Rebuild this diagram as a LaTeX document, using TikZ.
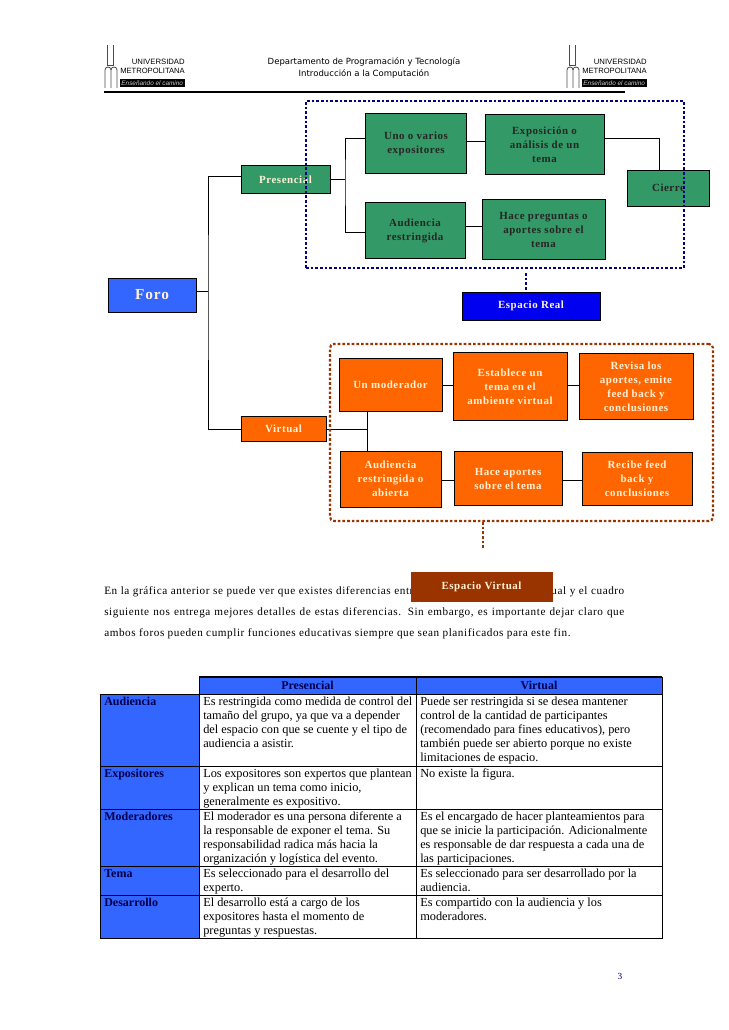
\documentclass[tikz,border=0pt]{standalone}
\usepackage{fontspec}
\setmainfont{Liberation Serif}
\setsansfont{Liberation Sans}
\newfontfamily\verdanafont{DejaVu Sans}
\usetikzlibrary{positioning}
\definecolor{verdeCaja}{RGB}{51,153,102}
\definecolor{naranjaCaja}{RGB}{255,102,0}
\definecolor{azulCaja}{RGB}{51,102,255}
\definecolor{azulReal}{RGB}{0,0,240}
\definecolor{cafeCaja}{RGB}{153,51,0}
\definecolor{azulMarco}{RGB}{0,0,128}
\definecolor{crema}{RGB}{255,240,215}
\tikzset{
  tam/.style 2 args={minimum width=#1*0.75pt,minimum height=#2*0.75pt},
  caja/.style={draw=black,line width=0.7pt,inner sep=0pt,align=center,
    font=\bfseries\fontsize{8.2}{10.5}\selectfont\addfontfeatures{LetterSpace=5}},
  verde/.style={caja,fill=verdeCaja,text=black!85},
  naranja/.style={caja,fill=naranjaCaja,text=crema},
  linea/.style={line width=0.75pt},
  marco/.style={line width=1.6pt,dash pattern=on 2pt off 1.5pt},
  celda/.style={anchor=north west,inner sep=0pt,align=left,
    font=\fontsize{9.25}{10.5}\selectfont},
  titulo/.style={anchor=north west,inner sep=0pt,text=azulMarco!60!black,
    font=\bfseries\fontsize{9}{10.5}\selectfont},
  borde/.style={line width=0.75pt},
  bordeg/.style={line width=1.2pt}
}
\begin{document}
\begin{tikzpicture}[x=0.75pt,y=-0.75pt]
\useasboundingbox (0,0) rectangle (728,1030);
% encabezado
\foreach \ox in {0,462}{
  \begin{scope}[xshift=\ox*0.75pt]
    \draw[line width=0.6pt,black!70] (107,45) -- (107,65) -- (113,65) -- (113,45);
    \draw[line width=0.6pt,black!70] (105,88) -- (105,70) .. controls (105,66) and (111,66) .. (111,70) -- (111,88);
    \draw[line width=0.6pt,black!70] (111,70) .. controls (111,66) and (117,66) .. (117,70) -- (117,88);
    \node[anchor=east,inner sep=0pt,font=\sffamily\fontsize{5.8}{6}\selectfont] (uni\ox) at (185,62) {UNIVERSIDAD};
    \node[anchor=east,inner sep=0pt,font=\sffamily\fontsize{5.7}{6}\selectfont] (metro\ox) at (185,71) {METROPOLITANA};
    \node[anchor=east,fill=black,text=white!80!black,inner sep=0pt,tam={65}{8},font=\sffamily\itshape\fontsize{4.8}{5}\selectfont] (lema\ox) at (185,83) {Enseñando el camino};
  \end{scope}
}
\node[align=center,inner sep=0pt,font=\verdanafont\fontsize{6.4}{9}\selectfont] (depto) at (364,67.5) {Departamento de Programación y Tecnología\\Introducción a la Computación};
\draw[line width=0.8pt] (104,92) -- (625,92);
% cajas
\node[caja,fill=azulCaja,text=crema,tam={88}{34},font=\bfseries\fontsize{11.5}{13}\selectfont\addfontfeatures{LetterSpace=6}] (foro) at (152,295) {Foro};
\node[verde,tam={89}{28},text=crema] (presencial) at (285.5,179.5) {Presencial};
\node[verde,tam={101}{60}] (uno) at (416,143.5) {Uno o varios\\expositores};
\node[verde,tam={119}{60}] (exposicion) at (544.5,144.5) {Exposición o\\análisis de un\\tema};
\node[verde,tam={100}{56}] (audiencia) at (415,230.5) {Audiencia\\restringida};
\node[verde,tam={123}{60}] (preguntas) at (543.5,229.5) {Hace preguntas o\\aportes sobre el\\tema};
\node[verde,tam={82}{36}] (cierre) at (668.5,188) {Cierre};
\node[caja,fill=azulReal,text=crema,tam={138}{28}] (espReal) at (531,306) {Espacio Real};
\node[naranja,tam={85}{25}] (virtual) at (283.5,429) {Virtual};
\node[naranja,tam={103}{53}] (moderador) at (390.5,385) {Un moderador};
\node[naranja,tam={114}{68}] (establece) at (510,386.5) {Establece un\\tema en el\\ambiente virtual};
\node[naranja,tam={114}{66}] (revisa) at (636,386.5) {Revisa los\\aportes, emite\\feed back y\\conclusiones};
\node[naranja,tam={101}{56}] (audVirtual) at (390.5,479) {Audiencia\\restringida o\\abierta};
\node[naranja,tam={108}{54}] (aportes) at (508,478.5) {Hace aportes\\sobre el tema};
\node[naranja,tam={110}{53}] (recibe) at (637,479) {Recibe feed\\back y\\conclusiones};
% conectores
\coordinate (tronco) at (208,292);
\coordinate (ramaP) at (345,180);
\coordinate (ramaV) at (367,429);
\draw[linea] (foro.east |- tronco) -- (tronco);
\draw[linea] (presencial.west |- 0,177) -| (tronco) |- (virtual.west);
\draw[linea] (presencial.east |- ramaP) -- (ramaP);
\draw[linea] (uno.west |- 0,139) -| (ramaP) |- (audiencia.west |- 0,233);
\draw[linea] (uno.east |- 0,142) -- (exposicion.west |- 0,142);
\draw[linea] (audiencia.east |- 0,227) -- (preguntas.west |- 0,227);
\draw[linea] (exposicion.east |- 0,139) -| (cierre.north -| 659,0);
\draw[linea] (virtual.east |- ramaV) -- (ramaV);
\draw[linea] (moderador.south -| ramaV) -- (audVirtual.north -| ramaV);
\draw[linea] (moderador.east) -- (establece.west |- moderador.east);
\draw[linea] (establece.east |- moderador.east) -- (revisa.west |- moderador.east);
\draw[linea] (audVirtual.east |- 0,480) -- (aportes.west |- 0,480);
\draw[linea] (aportes.east |- 0,480) -- (recibe.west |- 0,480);
% espacios
\node[draw=azulMarco,marco,tam={378}{167},inner sep=0pt] (marcoReal) at (495,184.5) {};
\draw[azulMarco,marco] (marcoReal.south -| 526,0) ++(0,4) -- (espReal.north -| 526,0);
\node[draw=cafeCaja,marco,rounded corners=3pt,tam={383}{177},inner sep=0pt] (marcoVirtual) at (521.5,432.5) {};
\draw[cafeCaja,marco] (marcoVirtual.south -| 483,0) -- (483,549);
% texto
\node[anchor=north west,inner sep=0pt,text width=390pt,align=justify,font=\fontsize{8.4}{15.75}\selectfont\addfontfeatures{LetterSpace=5}] (parrafo) at (104,586.5) {En la gráfica anterior se puede ver que existes diferencias entre el foro presencial y el virtual y el cuadro\linebreak siguiente nos entrega mejores detalles de estas diferencias. Sin embargo, es importante dejar claro que\linebreak ambos foros pueden cumplir funciones educativas siempre que sean planificados para este fin.};
\node[caja,fill=cafeCaja,draw=cafeCaja,text=crema,tam={141}{29}] (espVirtual) at (481.5,586.5) {\raisebox{1.5pt}{Espacio Virtual}};
% tabla
\fill[azulCaja] (199,677) rectangle (662,694);
\fill[azulCaja] (100,694) rectangle (199,938);
\draw[bordeg] (199,677) -- (662,677);
\draw[borde] (662,677) -- (662,938) -- (100,938) -- (100,694) -- (662,694);
\draw[borde] (199,677) -- (199,938);
\draw[borde] (416,677) -- (416,938);
\draw[borde] (100,766.5) -- (662,766.5);
\draw[bordeg] (100,809.5) -- (662,809.5);
\draw[bordeg] (100,866.5) -- (662,866.5);
\draw[bordeg] (100,895.5) -- (662,895.5);
\node[titulo,anchor=center] (thPres) at (307.5,685.5) {Presencial};
\node[titulo,anchor=center] (thVirt) at (539,685.5) {Virtual};
\node[titulo] (filaA) at (104,697) {Audiencia};
\node[titulo] (filaB) at (104,769) {Expositores};
\node[titulo] (filaC) at (104,812) {Moderadores};
\node[titulo] (filaD) at (104,869) {Tema};
\node[titulo] (filaE) at (104,898) {Desarrollo};
\node[celda] (celA1) at (203,697) {Es restringida como medida de control del\\tamaño del grupo, ya que va a depender\\del espacio con que se cuente y el tipo de\\audiencia a asistir.};
\node[celda] (celA2) at (420,697) {Puede ser restringida si se desea mantener\\control de la cantidad de participantes\\(recomendado para fines educativos), pero\\también puede ser abierto porque no existe\\limitaciones de espacio.};
\node[celda] (celB1) at (203,769) {Los expositores son expertos que plantean\\y explican un tema como inicio,\\generalmente es expositivo.};
\node[celda] (celB2) at (420,769) {No existe la figura.};
\node[celda] (celC1) at (203,812) {El moderador es una persona diferente a\\la responsable de exponer el tema. Su\\responsabilidad radica más hacia la\\organización y logística del evento.};
\node[celda] (celC2) at (420,812) {Es el encargado de hacer planteamientos para\\que se inicie la participación. Adicionalmente\\es responsable de dar respuesta a cada una de\\las participaciones.};
\node[celda] (celD1) at (203,869) {Es seleccionado para el desarrollo del\\experto.};
\node[celda] (celD2) at (420,869) {Es seleccionado para ser desarrollado por la\\audiencia.};
\node[celda] (celE1) at (203,898) {El desarrollo está a cargo de los\\expositores hasta el momento de\\preguntas y respuestas.};
\node[celda] (celE2) at (420,898) {Es compartido con la audiencia y los\\moderadores.};
\node[inner sep=0pt,text=azulMarco,font=\fontsize{7}{8}\selectfont] (pagina) at (620,976) {3};
\end{tikzpicture}
\end{document}
